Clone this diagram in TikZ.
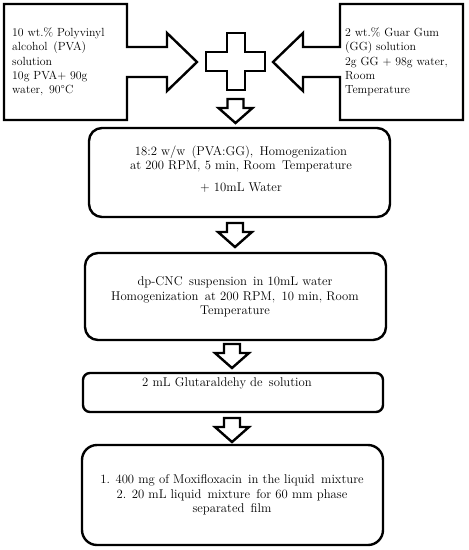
\documentclass[tikz,border=0pt]{standalone}
\usetikzlibrary{calc}
\begin{document}
\begin{tikzpicture}[x=1pt,y=-1pt,
  fat/.style={draw=black,line width=2.4pt,line join=miter,fill=white},
  rbox/.style={draw=black,line width=2.4pt,rounded corners=13pt,align=center,inner sep=0pt},
  txt/.style={font=\fontsize{11.8}{14.3}\selectfont,inner sep=0pt},
  btxt/.style={font=\fontsize{12.7}{14.6}\selectfont,inner sep=0pt},
  downarr/.pic={\draw[fat] (-8,0) -- (8,0) -- (8,9) -- (17,9) -- (0,24) -- (-17,9) -- (-8,9) -- cycle;}]
\useasboundingbox[fill=white] (0,0) rectangle (469,550);
% left input shape
\draw[fat] (4,4) -- (127,4) -- (127,47) -- (167,47) -- (167,33) -- (197,62) -- (167,91) -- (167,77) -- (127,77) -- (127,120) -- (4,120) -- cycle;
\node[txt,align=left,anchor=west] (pva) at (12,62) {10 wt.\% Polyvinyl\\alcohol\, (PVA)\\solution\\10g PVA+ 90g\\water,\, 90°C};
% right input shape
\draw[fat] (463,4) -- (340,4) -- (340,47) -- (303,47) -- (303,33) -- (273,62) -- (303,91) -- (303,77) -- (340,77) -- (340,120) -- (463,120) -- cycle;
\node[txt,align=left,anchor=west] (gg) at (345,62) {2 wt.\% Guar Gum\\(GG) solution\\2g GG + 98g water,\\Room\\Temperature};
% plus
\draw[fat] (227,33) -- (245,33) -- (245,52) -- (265,52) -- (265,71) -- (245,71) -- (245,90) -- (227,90) -- (227,71) -- (206,71) -- (206,52) -- (227,52) -- cycle;
\coordinate (plus) at (236,62);
% boxes
\node[rbox,minimum width=301pt,minimum height=89pt] (b1) at (239.5,172.5) {};
\node[btxt,align=center] (t1) at (241,159) {18:2 w/w\, (PVA:GG),\, Homogenization\\at 200 RPM, 5 min, Room\, Temperature};
\node[btxt] (t1b) at (241,188) {+ 10mL Water};
\node[rbox,minimum width=301pt,minimum height=87pt] (b2) at (235.5,296.5) {};
\node[btxt,align=center] (t2) at (235,297) {dp-CNC\, suspension\, in 10mL water\\Homogenization\, at 200 RPM,\, 10 min, Room\\Temperature};
\node[rbox,rounded corners=7pt,minimum width=300pt,minimum height=39pt] (b3) at (233,392.5) {};
\node[btxt] (t3) at (227,383) {2 mL Glutaraldehy de\, solution};
\node[rbox,rounded corners=15pt,minimum width=301pt,minimum height=100pt] (b4) at (232.5,495) {};
\node[btxt,align=center] (t4) at (232,495) {1. 400 mg of Moxifloxacin\, in the liquid\, mixture\\2. 20 mL liquid\, mixture\, for 60 mm phase\\separated\, film};
% block arrows
\pic at (235.5,99) {downarr};
\pic at (235,223) {downarr};
\pic at (232,344) {downarr};
\pic at (232,418) {downarr};
\end{tikzpicture}
\end{document}
